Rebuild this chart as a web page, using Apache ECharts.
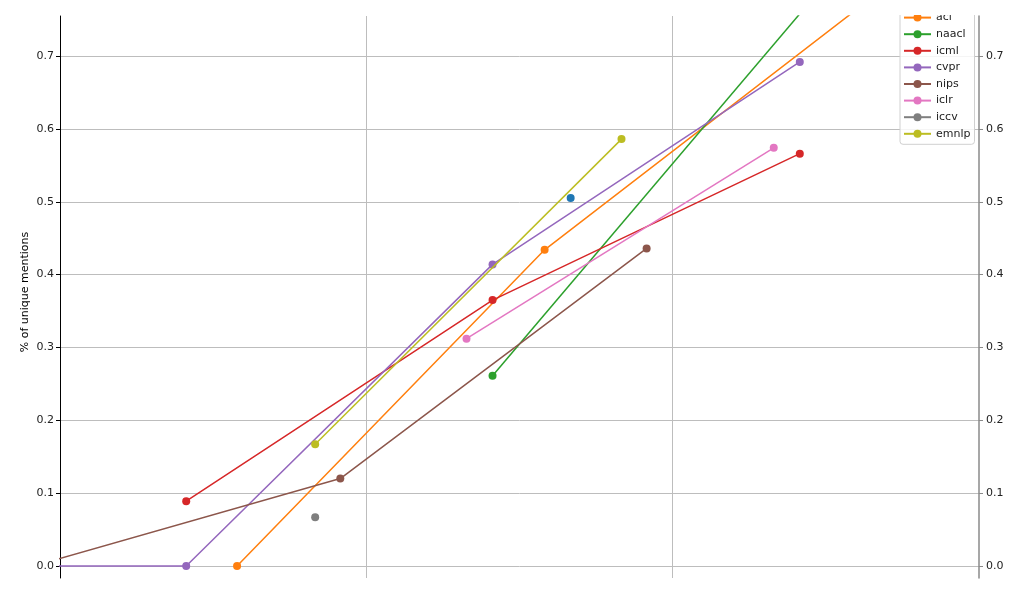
<!DOCTYPE html>
<html>
<head>
<meta charset="utf-8">
<script src="https://cdn.jsdelivr.net/npm/echarts@6/dist/echarts.min.js"></script>
<style>
html,body{margin:0;padding:0;background:#fff;}
#chart{width:1009px;height:604px;}
</style>
</head>
<body>
<div id="chart"></div>
<script>
// x values are fractional years (date of the conference), y = share of unique mentions
const seriesNames = ['eccv', 'acl', 'naacl', 'icml', 'cvpr', 'nips', 'iclr', 'iccv', 'emnlp'];
const colors = ['#1f77b4', '#ff7f0e', '#2ca02c', '#d62728', '#9467bd', '#8c564b', '#e377c2', '#7f7f7f', '#bcbd22'];

const eccvX  = [2020.667];
const eccvY  = [0.505];
const aclX   = [2019.578, 2020.582, 2021.582];
const aclY   = [0.000, 0.434, 0.758];
const naaclX = [2020.412, 2021.415];
const naaclY = [0.261, 0.758];
const icmlX  = [2019.412, 2020.412, 2021.415];
const icmlY  = [0.089, 0.365, 0.566];
const cvprX  = [2018.412, 2019.412, 2020.412, 2021.415];
const cvprY  = [0.000, 0.000, 0.414, 0.692];
const nipsX  = [2018.915, 2019.915, 2020.915];
const nipsY  = [0.000, 0.120, 0.436];
const iclrX  = [2020.327, 2021.330];
const iclrY  = [0.312, 0.574];
const iccvX  = [2019.833];
const iccvY  = [0.067];
const emnlpX = [2019.833, 2020.833];
const emnlpY = [0.167, 0.586];

const yTicks = ['0.0', '0.1', '0.2', '0.3', '0.4', '0.5', '0.6', '0.7'];

const xs = [eccvX, aclX, naaclX, icmlX, cvprX, nipsX, iclrX, iccvX, emnlpX];
const ys = [eccvY, aclY, naaclY, icmlY, cvprY, nipsY, iclrY, iccvY, emnlpY];

const font = 'DejaVu Sans';

const series = seriesNames.map((name, i) => ({
  name: name,
  type: 'line',
  data: xs[i].map((x, j) => [x, ys[i][j]]),
  symbol: 'circle',
  symbolSize: 8,
  showSymbol: true,
  showAllSymbol: true,
  clip: true,
  lineStyle: { width: 1.5, color: colors[i] },
  itemStyle: { color: colors[i] },
  emphasis: { disabled: true },
  z: 2 + i
}));

const yLabelFormatter = v => {
  const s = v.toFixed(1);
  return yTicks.indexOf(s) >= 0 && Math.abs(v - parseFloat(s)) < 1e-6 ? s : '';
};

const chart = echarts.init(document.getElementById('chart'), null, { renderer: 'canvas' });
chart.setOption({
  animation: false,
  backgroundColor: '#ffffff',
  color: colors,
  textStyle: { fontFamily: font },
  grid: { left: 60, right: 30, top: 16, bottom: 26, containLabel: false },
  xAxis: {
    type: 'value',
    min: 2019,
    max: 2022,
    interval: 1,
    axisLine: { show: false },
    axisTick: { show: false },
    axisLabel: { show: false },
    splitLine: { show: true, showMinLine: false, showMaxLine: false, lineStyle: { color: '#bdbdbd', width: 1 } }
  },
  yAxis: [
    {
      type: 'value',
      position: 'left',
      min: -0.0165,
      max: 0.755,
      splitNumber: 8,
      name: '% of unique mentions',
      nameLocation: 'middle',
      nameGap: 29,
      nameMoveOverlap: false,
      nameRotate: 90,
      nameTextStyle: { fontFamily: font, fontSize: 11, color: '#000', padding: [0, 0, 0, 10] },
      axisLine: { show: true, lineStyle: { color: '#000', width: 1 } },
      axisTick: { show: true, length: 4, lineStyle: { color: '#000' } },
      axisLabel: { fontFamily: font, fontSize: 11, color: '#222', margin: 6, showMinLabel: false, showMaxLabel: false, formatter: yLabelFormatter },
      splitLine: { show: true, showMinLine: false, showMaxLine: false, lineStyle: { color: '#bdbdbd', width: 1 } }
    },
    {
      type: 'value',
      position: 'right',
      min: -0.0165,
      max: 0.755,
      splitNumber: 8,
      axisLine: { show: true, lineStyle: { color: '#8a8a8a', width: 1.5 } },
      axisTick: { show: true, length: 4, lineStyle: { color: '#8a8a8a' } },
      axisLabel: { fontFamily: font, fontSize: 11, color: '#222', margin: 7, showMinLabel: false, showMaxLabel: false, formatter: yLabelFormatter },
      splitLine: { show: false }
    }
  ],
  legend: {
    data: seriesNames,
    orient: 'vertical',
    left: 900,
    top: -9.5,
    padding: [5, 4, 5, 3],
    itemWidth: 27,
    itemHeight: 10,
    itemGap: 5.6,
    backgroundColor: 'rgba(255,255,255,0.85)',
    borderColor: '#d0d0d0',
    borderWidth: 1,
    borderRadius: 3,
    textStyle: { fontFamily: font, fontSize: 11, color: '#222' },
    selectedMode: false
  },
  graphic: [{
    type: 'rect',
    z: 100,
    silent: true,
    shape: { x: 0, y: 0, width: 1009, height: 15 },
    style: { fill: '#ffffff' }
  }],
  series: series
});
</script>
</body>
</html>
